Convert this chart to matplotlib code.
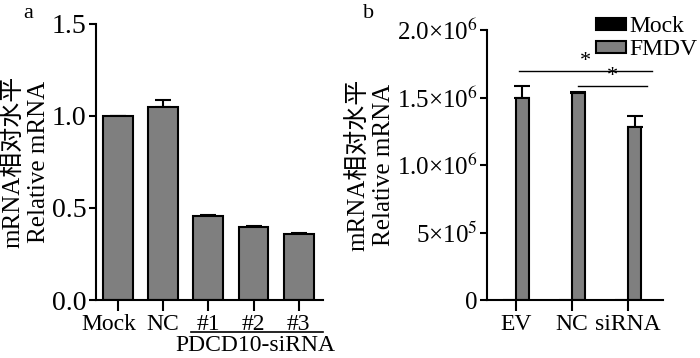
import numpy as np
import matplotlib
matplotlib.use("Agg")
import matplotlib.pyplot as plt
import matplotlib.transforms as mtransforms

plt.rcParams.update({
    "font.family": ["Liberation Serif", "Noto Sans CJK SC"],
    "mathtext.fontset": "stix",
    "font.size": 16,
    "axes.linewidth": 1.5,
    "xtick.major.width": 1.5,
    "ytick.major.width": 1.5,
})

# ---- panel a data ----
a_cats = ["Mock", "NC", "#1", "#2", "#3"]
a_vals = [1.0, 1.05, 0.455, 0.395, 0.36]
a_errs = [0.0, 0.035, 0.006, 0.008, 0.002]
a_yticks = [0.0, 0.5, 1.0, 1.5]
a_yticklabels = ["0.0", "0.5", "1.0", "1.5"]

# ---- panel b data ----
b_cats = ["EV", "NC", "siRNA"]
b_mock = [0.0, 0.0, 0.0]
b_fmdv = [1.50e6, 1.535e6, 1.285e6]
b_fmdv_err = [0.085e6, 0.008e6, 0.075e6]
b_yticks = [0, 5e5, 1.0e6, 1.5e6, 2.0e6]
b_yticklabels = ["0", r"5×10$^{5}$", r"1.0×10$^{6}$", r"1.5×10$^{6}$", r"2.0×10$^{6}$"]
b_sig = [(0, 2, 1.696e6), (1, 2, 1.585e6)]  # (from group, to group, height)

GRAY = "#7f7f7f"
ylabel = "mRNA相对水平\nRelative mRNA"

fig = plt.figure(figsize=(7.0, 3.58), dpi=100)

# ------------------------------------------------------------------
# Panel a
# ------------------------------------------------------------------
ax1 = fig.add_axes([0.137, 0.162, 0.324, 0.771])
x = np.arange(len(a_cats))
ax1.bar(x, a_vals, width=0.66, color=GRAY, edgecolor="black", linewidth=1.5, zorder=2)
ax1.errorbar(x, a_vals, yerr=[np.zeros(len(a_errs)), a_errs], fmt="none",
             ecolor="black", elinewidth=1.5, capsize=6, capthick=1.5, zorder=1)
ax1.set_xlim(-0.49, 4.53)
ax1.set_ylim(0, 1.5)
ax1.set_yticks(a_yticks)
ax1.set_yticklabels(a_yticklabels, fontsize=20)
ax1.set_xticks(x)
ax1.set_xticklabels(a_cats, fontsize=17)
ax1.tick_params(axis="x", length=8, pad=2)
ax1.tick_params(axis="y", length=5, pad=2)
# "Mock" sits a little left of its tick in the original
first = ax1.get_xticklabels()[0]
first.set_transform(first.get_transform() +
                    mtransforms.ScaledTranslation(-9 / 100, 0, fig.dpi_scale_trans))
ax1.spines["top"].set_visible(False)
ax1.spines["right"].set_visible(False)
ax1.set_ylabel(ylabel, fontsize=18, linespacing=1.2, labelpad=1)
# group underline + label
ax1.plot([1.62, 4.53], [-0.174, -0.174], color="black", lw=1.2, clip_on=False)
ax1.text(3.05, -0.188, "PDCD10-siRNA", ha="center", va="top", fontsize=17,
         clip_on=False)
fig.text(0.033, 0.962, "a", fontsize=16, ha="left", va="center")

# ------------------------------------------------------------------
# Panel b
# ------------------------------------------------------------------
ax2 = fig.add_axes([0.696, 0.162, 0.251, 0.754])
xb = np.arange(len(b_cats))
w = 0.23
ax2.bar(xb - w / 2, b_mock, width=w, color="black", edgecolor="black",
        linewidth=1.5, label="Mock")
ax2.bar(xb + w / 2, b_fmdv, width=w, color=GRAY, edgecolor="black",
        linewidth=1.5, label="FMDV", zorder=2)
ax2.errorbar(xb + w / 2, b_fmdv, yerr=[np.zeros(len(b_fmdv_err)), b_fmdv_err],
             fmt="none", ecolor="black", elinewidth=1.5, capsize=6, capthick=1.5,
             zorder=1)
for i, j, h in b_sig:
    x0 = xb[i] + 0.05 if i == 0 else xb[i] + 0.1
    x1 = xb[j] + 0.42 if i == 0 else xb[j] + 0.33
    ax2.plot([x0, x1], [h, h], color="black", lw=1.0)
    ax2.text((x0 + x1) / 2, h + 0.0, "*", ha="center", va="bottom", fontsize=16)
ax2.set_xlim(-0.51, 2.62)
ax2.set_ylim(0, 2.0e6)
ax2.set_yticks(b_yticks)
ax2.set_yticklabels(b_yticklabels, fontsize=18)
ax2.set_xticks(xb)
ax2.set_xticklabels(b_cats, fontsize=17)
ax2.tick_params(axis="x", length=8, pad=2)
ax2.tick_params(axis="y", length=5, pad=2)
ax2.spines["top"].set_visible(False)
ax2.spines["right"].set_visible(False)
ax2.set_ylabel(ylabel, fontsize=18, linespacing=1.2, labelpad=1)
ax2.legend(loc="upper left", bbox_to_anchor=(596 / 700, 1 - 16 / 358),
           bbox_transform=fig.transFigure, frameon=False,
           fontsize=17, handlelength=1.25, handleheight=0.4, handletextpad=0.15,
           labelspacing=0.1, borderaxespad=0, borderpad=0)
fig.text(0.518, 0.962, "b", fontsize=16, ha="left", va="center")

fig.savefig("out.png", dpi=100)
